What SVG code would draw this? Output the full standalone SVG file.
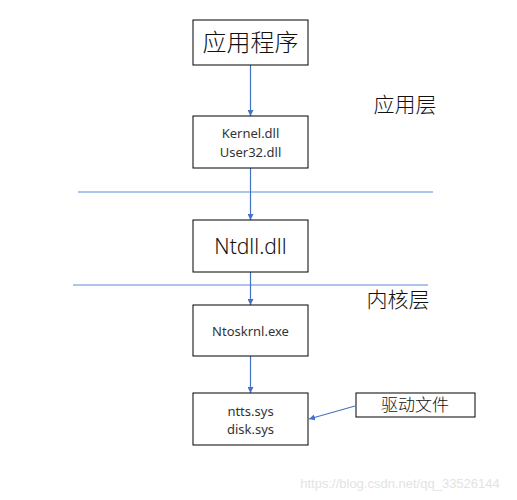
<svg xmlns="http://www.w3.org/2000/svg" width="517" height="500" viewBox="0 0 517 500">
<style>
.box{fill:#fff;stroke:#000;stroke-width:1}
.t{font-family:"Noto Sans CJK SC","Noto Sans",sans-serif;fill:#111;text-anchor:middle;font-weight:300}
.s{font-family:"Noto Sans","Liberation Sans",sans-serif;fill:#333;text-anchor:middle;font-size:13px}
.c{stroke:#4472C4;stroke-width:1.2;fill:none}
.h{stroke:#5B8BD6;stroke-width:1;fill:none}
</style>
<defs>
<marker id="ah" viewBox="0 0 10 10" refX="10" refY="5" markerWidth="6" markerHeight="6" orient="auto" markerUnits="userSpaceOnUse">
<path d="M0,0 L10,5 L0,10 z" fill="#4472C4"/>
</marker>
</defs>
<rect width="517" height="500" fill="#fff"/>
<g id="connectors">
<line class="h" x1="78" y1="192" x2="433" y2="192"/>
<line class="h" x1="73" y1="285" x2="428" y2="285"/>
<line class="c" x1="250.5" y1="65" x2="250.5" y2="116" marker-end="url(#ah)"/>
<line class="c" x1="250.5" y1="168" x2="250.5" y2="220" marker-end="url(#ah)"/>
<line class="c" x1="250.5" y1="272" x2="250.5" y2="305" marker-end="url(#ah)"/>
<line class="c" x1="250.5" y1="356" x2="250.5" y2="393" marker-end="url(#ah)"/>
<line class="c" x1="355" y1="406" x2="309" y2="419" marker-end="url(#ah)"/>
</g>
<g id="app">
<rect class="box" x="193" y="20" width="115" height="45"/>
<text class="t" x="250.5" y="51" font-size="24">应用程序</text>
</g>
<g id="kernel">
<rect class="box" x="193" y="116" width="115" height="52"/>
<text class="s" x="250.5" y="138">Kernel.dll</text>
<text class="s" x="250.5" y="157">User32.dll</text>
</g>
<g id="ntdll">
<rect class="box" x="193" y="220" width="115" height="52"/>
<text x="250.5" y="254" font-size="21" font-weight="300" font-family="Noto Sans,Liberation Sans,sans-serif" text-anchor="middle" fill="#111">Ntdll.dll</text>
</g>
<g id="ntoskrnl">
<rect class="box" x="193" y="305" width="115" height="51"/>
<text class="s" x="250.5" y="336">Ntoskrnl.exe</text>
</g>
<g id="sys">
<rect class="box" x="193" y="393" width="115" height="52"/>
<text class="s" x="250.5" y="416">ntts.sys</text>
<text class="s" x="250.5" y="434">disk.sys</text>
</g>
<g id="driver">
<rect class="box" x="356" y="393" width="119" height="24"/>
<text class="t" x="415" y="411" font-size="17">驱动文件</text>
</g>
<g id="labels">
<text class="t" x="405" y="112" font-size="21">应用层</text>
<text class="t" x="398" y="307" font-size="21">内核层</text>
<text x="400" y="488" font-size="13" font-family="Liberation Sans,sans-serif" text-anchor="middle" fill="#e3e3e3">https://blog.csdn.net/qq_33526144</text>
</g>
</svg>
